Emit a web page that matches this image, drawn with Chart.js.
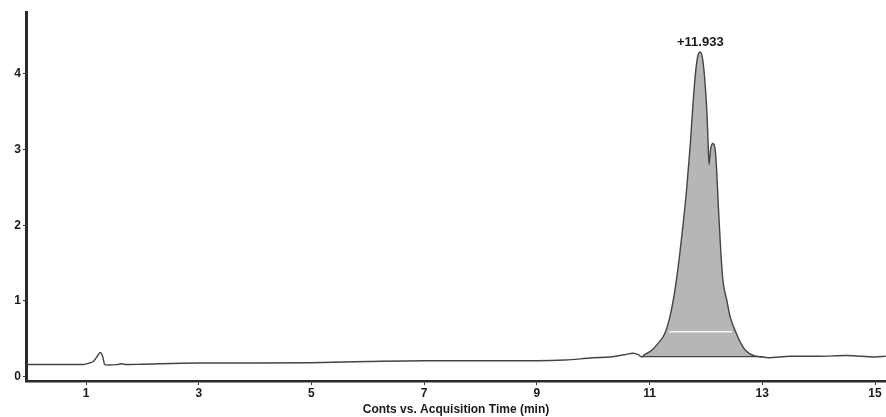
<!DOCTYPE html>
<html>
<head>
<meta charset="utf-8">
<script src="https://cdn.jsdelivr.net/npm/chart.js@4/dist/chart.umd.min.js"></script>
<style>
  html, body { margin: 0; padding: 0; background: #ffffff; }
  #wrap { width: 886px; height: 417px; position: relative; }
</style>
</head>
<body>
<div id="wrap"><canvas id="c" width="886" height="417"></canvas></div>
<script>
// Retention times (min) and responses
const timeBefore = [-0.06, 0.5, 0.95, 1.05, 1.13, 1.2, 1.25, 1.29, 1.31, 1.33, 1.4, 1.55, 1.63, 1.72, 2.0, 3.0, 4.0, 5.0, 6.0, 7.0, 8.0, 9.0, 9.5, 10.0, 10.3, 10.55, 10.71, 10.8];
const respBefore = [0.16, 0.16, 0.16, 0.18, 0.2, 0.27, 0.32, 0.28, 0.22, 0.16, 0.155, 0.16, 0.17, 0.16, 0.165, 0.18, 0.18, 0.185, 0.2, 0.21, 0.21, 0.21, 0.22, 0.25, 0.26, 0.29, 0.31, 0.29];

const timePeak = [10.86, 10.89, 11.04, 11.15, 11.27, 11.36, 11.42, 11.48, 11.54, 11.60, 11.66, 11.72, 11.77, 11.82, 11.86, 11.90, 11.94, 11.98, 12.02, 12.04, 12.055, 12.08, 12.12, 12.16, 12.19, 12.22, 12.26, 12.30, 12.37, 12.43, 12.54, 12.62, 12.70, 12.84, 13.01];
const respPeak = [0.26, 0.28, 0.35, 0.44, 0.57, 0.79, 1.01, 1.30, 1.65, 2.05, 2.50, 3.05, 3.60, 4.05, 4.25, 4.29, 4.20, 3.92, 3.45, 3.05, 2.80, 2.99, 3.08, 3.02, 2.73, 2.25, 1.70, 1.28, 1.01, 0.79, 0.57, 0.44, 0.35, 0.28, 0.26];

const timeAfter = [13.1, 13.5, 14.0, 14.5, 15.0, 15.19];
const respAfter = [0.25, 0.27, 0.27, 0.28, 0.26, 0.27];

const integrationBaseline = 0.265;
const scanLineTime = [11.345, 12.465];
const scanLineResp = [0.595, 0.595];
const xTicks = [1, 3, 5, 7, 9, 11, 13, 15];
const yTicks = [0, 1, 2, 3, 4];
const peakLabel = "+11.933";
const xTitle = "Conts vs. Acquisition Time (min)";

const toPts = (xs, ys) => xs.map((x, i) => ({ x: x, y: ys[i] }));
const tracePts = toPts(timeBefore, respBefore).concat(toPts(timePeak, respPeak), toPts(timeAfter, respAfter));
const peakPts = toPts(timePeak, respPeak);
const basePts = [{ x: timePeak[0], y: integrationBaseline }, { x: timePeak[timePeak.length - 1], y: integrationBaseline }];
const scanPts = toPts(scanLineTime, scanLineResp);
const apexIdx = respPeak.indexOf(Math.max(...respPeak));

const FONT = "'Liberation Sans', Arial, sans-serif";

const labelPlugin = {
  id: 'peakLabel',
  afterDatasetsDraw(chart) {
    const { ctx, scales } = chart;
    const x = scales.x.getPixelForValue(timePeak[apexIdx]);
    const y = scales.y.getPixelForValue(respPeak[apexIdx]);
    ctx.save();
    ctx.font = "bold 13px " + FONT;
    ctx.fillStyle = '#1a1a1a';
    ctx.textAlign = 'center';
    ctx.textBaseline = 'bottom';
    ctx.fillText(peakLabel, x, y - 3);
    ctx.restore();
  }
};

new Chart(document.getElementById('c'), {
  type: 'line',
  data: {
    datasets: [
      {
        data: peakPts,
        borderColor: 'rgba(0,0,0,0)',
        borderWidth: 0,
        backgroundColor: 'rgb(182,182,182)',
        fill: { value: integrationBaseline },
        pointRadius: 0,
        cubicInterpolationMode: 'monotone',
        order: 4
      },
      {
        data: scanPts,
        borderColor: 'rgba(255,255,255,0.85)',
        borderWidth: 1.5,
        pointRadius: 0,
        fill: false,
        order: 3
      },
      {
        data: basePts,
        borderColor: '#444',
        borderWidth: 1.4,
        pointRadius: 0,
        fill: false,
        order: 2
      },
      {
        data: tracePts,
        borderColor: '#444',
        borderWidth: 1.4,
        pointRadius: 0,
        fill: false,
        cubicInterpolationMode: 'monotone',
        order: 1
      }
    ]
  },
  options: {
    responsive: false,
    animation: false,
    events: [],
    layout: { padding: { top: 12, right: 0, left: 0, bottom: 0 } },
    plugins: { legend: { display: false }, tooltip: { enabled: false } },
    scales: {
      x: {
        type: 'linear',
        min: -0.065,
        max: 15.195,
        afterBuildTicks(s) { s.ticks = xTicks.map(v => ({ value: v })); },
        afterFit(s) { s.height = 36; },
        grid: { drawOnChartArea: false, drawTicks: true, tickLength: 4, color: '#333', lineWidth: 1 },
        border: { display: true, color: '#2a2a2a', width: 2.5 },
        ticks: { color: '#1a1a1a', font: { family: FONT, size: 12, weight: 'bold' }, padding: 1, maxRotation: 0, autoSkip: false },
        title: { display: true, text: xTitle, color: '#1a1a1a', font: { family: FONT, size: 12, weight: 'bold' }, padding: { top: 0, bottom: 0 } }
      },
      y: {
        type: 'linear',
        min: -0.057,
        max: 4.818,
        afterBuildTicks(s) { s.ticks = yTicks.map(v => ({ value: v })); },
        afterFit(s) { s.width = 26; },
        grid: { drawOnChartArea: false, drawTicks: true, tickLength: 3, color: '#333', lineWidth: 1 },
        border: { display: true, color: '#2a2a2a', width: 3 },
        ticks: { color: '#1a1a1a', font: { family: FONT, size: 12, weight: 'bold' }, padding: 2, autoSkip: false }
      }
    }
  },
  plugins: [labelPlugin]
});
</script>
</body>
</html>
